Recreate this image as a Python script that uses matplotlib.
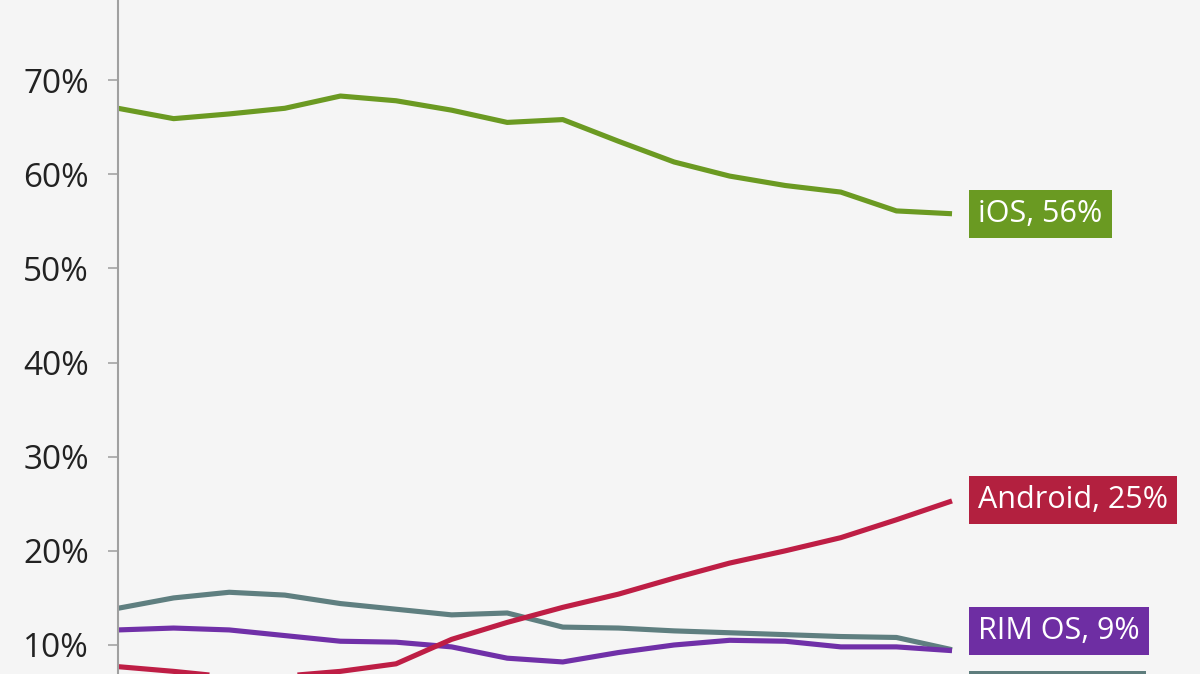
import numpy as np
import matplotlib
matplotlib.use('Agg')
import matplotlib.pyplot as plt
from matplotlib import rcParams

rcParams['font.family'] = ['Open Sans', 'DejaVu Sans']

# monthly share of mobile web traffic, 16 readings
ios = [67.0, 65.9, 66.4, 67.0, 68.3, 67.8, 66.8, 65.5, 65.8, 63.5, 61.3, 59.8, 58.8, 58.1, 56.1, 55.8]
android = [7.7, 7.2, 6.6, 6.7, 7.2, 8.0, 10.6, 12.4, 14.0, 15.4, 17.1, 18.7, 20.0, 21.4, 23.3, 25.3]
rim = [11.6, 11.8, 11.6, 11.0, 10.4, 10.3, 9.8, 8.6, 8.2, 9.2, 10.0, 10.5, 10.4, 9.8, 9.8, 9.4]
other = [13.9, 15.0, 15.6, 15.3, 14.4, 13.8, 13.2, 13.4, 11.9, 11.8, 11.5, 11.3, 11.1, 10.9, 10.8, 9.5]

names = ['iOS, 56%', 'Android, 25%', 'RIM OS, 9%', 'Other, 10%']
colors = ['#6b9a22', '#be1e45', '#7030a8', '#5f7f80']
box_colors = ['#6a9a22', '#b3203f', '#6e2ea3', '#5e7d7d']
label_y = [55.8, 25.4, 11.5, 4.65]

yticks = [10, 20, 30, 40, 50, 60, 70]

fig = plt.figure(figsize=(12, 6.74), dpi=100, facecolor='#f5f5f5')
ax = fig.add_axes([118/1200, 0, 1082/1200, 1])
ax.set_facecolor('#f5f5f5')

x = np.arange(len(ios))
for series, c in zip([other, rim, android, ios], [colors[3], colors[2], colors[1], colors[0]]):
    ax.plot(x, series, color=c, lw=3.7, solid_capstyle='butt', solid_joinstyle='round', clip_on=False)

for name, yv, bc in zip(names, label_y, box_colors):
    ax.text(15.47, yv, name, color='white', fontsize=22, ha='left', va='center',
            bbox=dict(boxstyle='square,pad=0.3', fc=bc, ec='none'), clip_on=False)

ax.set_xlim(0, 19.46)
ax.set_ylim(6.92, 78.5)
ax.set_yticks(yticks)
ax.set_yticklabels(['%d%%' % t for t in yticks], fontsize=24, color='#222222')
ax.tick_params(axis='y', length=7, width=1.3, color='#aaaaaa', pad=14)
ax.set_xticks([])
for s in ['top', 'right', 'bottom']:
    ax.spines[s].set_visible(False)
ax.spines['left'].set_color('#a0a0a0')
ax.spines['left'].set_linewidth(1.5)

plt.savefig('out.png', dpi=100, facecolor='#f5f5f5')
